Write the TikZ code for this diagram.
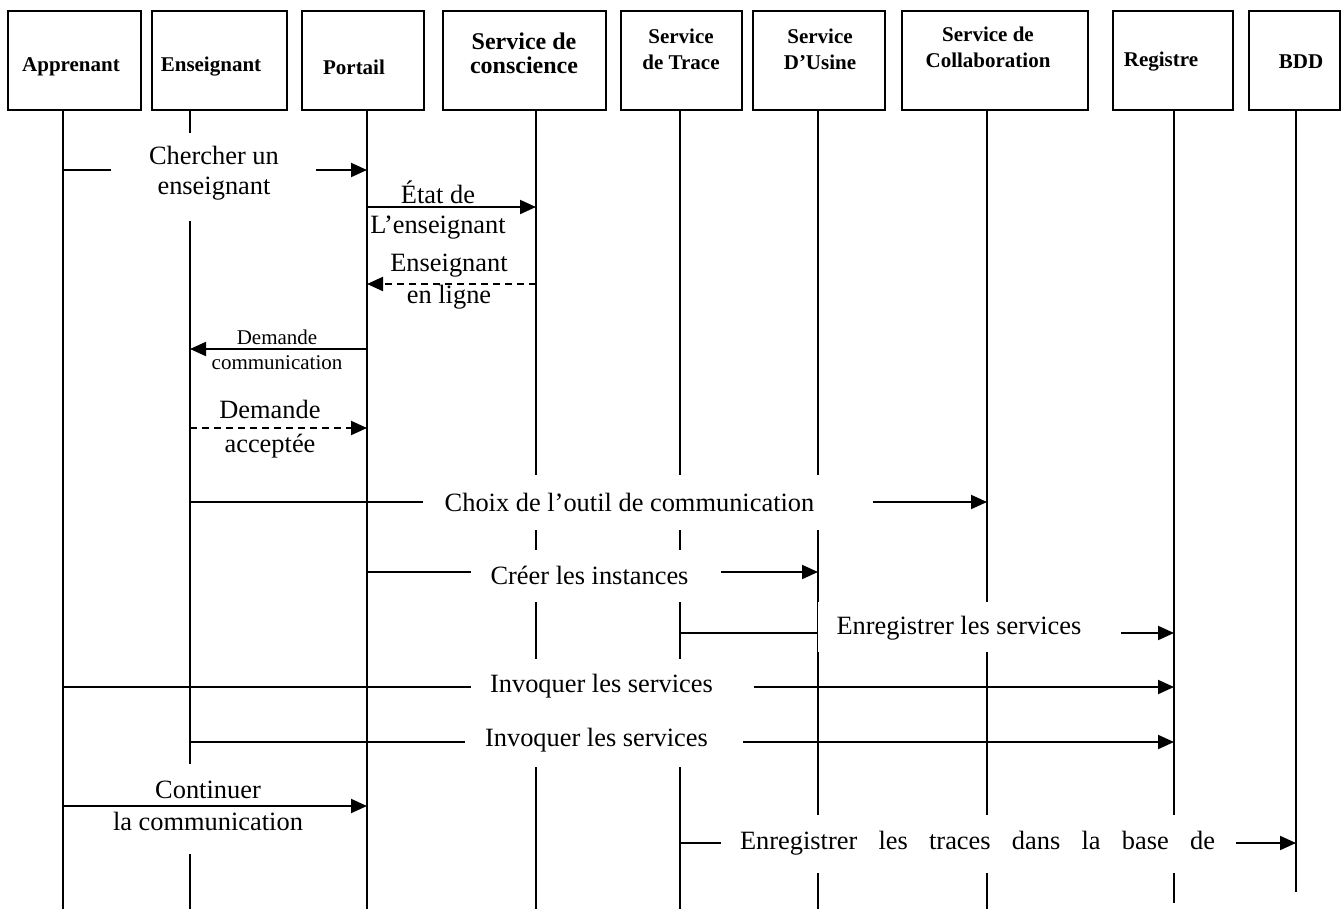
\documentclass[tikz,border=0pt]{standalone}
\usepackage{fontspec}
\setmainfont{Liberation Serif}
\usetikzlibrary{arrows.meta}
\begin{document}
\begin{tikzpicture}[x=1pt,y=-1pt,
  actorbox/.style={draw, line width=2.3pt, minimum height=99pt, inner sep=0pt},
  actortext/.style={font=\bfseries\fontsize{21}{26}\selectfont, align=center, inner sep=0pt},
  lifeline/.style={line width=2pt},
  msg/.style={line width=2pt, -{Triangle[length=16pt,width=14pt]}},
  reply/.style={msg, dash pattern=on 7pt off 5pt},
  maskbox/.style={fill=white, draw=none, inner sep=0pt, outer sep=0pt},
  msgtext/.style={font=\fontsize{26.4}{30}\selectfont, align=center, inner sep=0pt},
  smalltext/.style={font=\fontsize{21}{25}\selectfont, align=center, inner sep=0pt}
]
\useasboundingbox (0,0) rectangle (1344,908);

% participant boxes
\node[actorbox, minimum width=133pt] (A) at (74.5,60.5) {};
\node[actorbox, minimum width=135pt] (E) at (219.5,60.5) {};
\node[actorbox, minimum width=122pt] (P) at (363,60.5) {};
\node[actorbox, minimum width=163pt] (C) at (524.5,60.5) {};
\node[actorbox, minimum width=121pt] (T) at (681.5,60.5) {};
\node[actorbox, minimum width=132pt] (U) at (819,60.5) {};
\node[actorbox, minimum width=186pt] (Co) at (995,60.5) {};
\node[actorbox, minimum width=120pt] (R) at (1173,60.5) {};
\node[actorbox, minimum width=91pt] (B) at (1294.5,60.5) {};

% participant names
\node[actortext] (A-name) at (71,67) {Apprenant};
\node[actortext] (E-name) at (211,67) {Enseignant};
\node[actortext] (P-name) at (354,67) {Portail};
\node[actortext, font=\bfseries\fontsize{24}{24}\selectfont] (C-name) at (524,53) {Service de\\conscience};
\node[actortext] (T-name) at (681,49) {Service\\de Trace};
\node[actortext] (U-name) at (820,49) {Service\\D’Usine};
\node[actortext] (Co-name) at (988,47) {Service de\\Collaboration};
\node[actortext] (R-name) at (1161,62) {Registre};
\node[actortext] (B-name) at (1301,62) {BDD};

% lifelines
\foreach \n/\x/\b in {A/63/910, E/190/910, P/367/910, C/536/910, T/680/910,
                      U/818/910, Co/987/910, R/1174/903, B/1296/892} {
  \coordinate (\n-top) at (\x,110);
  \coordinate (\n-bot) at (\x,\b);
  \draw[lifeline] (\n-top) -- (\n-bot);
}

% message end points
\coordinate (m1s) at (63,170);   \coordinate (m1e) at (367,170);
\coordinate (m2s) at (367,207);  \coordinate (m2e) at (536,207);
\coordinate (m3s) at (536,284);  \coordinate (m3e) at (367,284);
\coordinate (m4s) at (367,349);  \coordinate (m4e) at (190,349);
\coordinate (m5s) at (190,428);  \coordinate (m5e) at (367,428);
\coordinate (m6s) at (190,502);  \coordinate (m6e) at (987,502);
\coordinate (m7s) at (367,572);  \coordinate (m7e) at (818,572);
\coordinate (m8s) at (680,633);  \coordinate (m8e) at (1174,633);
\coordinate (m9s) at (63,687);   \coordinate (m9e) at (1174,687);
\coordinate (m10s) at (190,742); \coordinate (m10e) at (1174,742);
\coordinate (m11s) at (63,806);  \coordinate (m11e) at (367,806);
\coordinate (m12s) at (680,843); \coordinate (m12e) at (1296,843);

% blank area behind the last two-line label (under its arrow)
\node[maskbox, minimum width=200pt, minimum height=90pt] (m11mask) at (210,809) {};

% messages
\draw[msg] (m1s) -- (m1e);
\draw[msg] (m2s) -- (m2e);
\draw[reply] (m3s) -- (m3e);
\draw[msg] (m4s) -- (m4e);
\draw[reply] (m5s) -- (m5e);
\draw[msg] (m6s) -- (m6e);
\draw[msg] (m7s) -- (m7e);
\draw[msg] (m8s) -- (m8e);
\draw[msg] (m9s) -- (m9e);
\draw[msg] (m10s) -- (m10e);
\draw[msg] (m11s) -- (m11e);
\draw[msg] (m12s) -- (m12e);

% blank label areas over the lines
\node[maskbox, minimum width=205pt, minimum height=88pt] (m1mask) at (213.5,177) {};
\node[maskbox, minimum width=450pt, minimum height=55pt] (m6mask) at (648,502.5) {};
\node[maskbox, minimum width=250pt, minimum height=52pt] (m7mask) at (596,576) {};
\node[maskbox, minimum width=303pt, minimum height=50pt] (m8mask) at (969.5,627) {};
\node[maskbox, minimum width=283pt, minimum height=56pt] (m9mask) at (612.5,687) {};
\node[maskbox, minimum width=278pt, minimum height=52pt] (m10mask) at (604,741) {};
\node[maskbox, minimum width=515pt, minimum height=58pt] (m12mask) at (978.5,844) {};

% labels
\node[msgtext] (m1text) at (214,173) {Chercher un\\enseignant};
\node[msgtext] (m2text) at (438,210) {État de\\L’enseignant};
\node[msgtext, font=\fontsize{26.4}{32}\selectfont] (m3text) at (449,282) {Enseignant\\en ligne};
\node[smalltext] (m4text) at (277,349.5) {Demande\\communication};
\node[msgtext, font=\fontsize{26.4}{34}\selectfont] (m5text) at (270,429) {Demande\\acceptée};
\node[msgtext] (m6text) at (629.5,502) {Choix de l’outil de communication};
\node[msgtext] (m7text) at (589.5,575) {Créer les instances};
\node[msgtext] (m8text) at (959,628) {Enregistrer les services};
\node[msgtext] (m9text) at (601.5,686) {Invoquer les services};
\node[msgtext] (m10text) at (596.5,740) {Invoquer les services};
\node[msgtext, font=\fontsize{26.4}{32}\selectfont] (m11text) at (208,806) {Continuer\\la communication};
\node[msgtext] (m12text) at (977.5,843) {\makebox[475pt][s]{Enregistrer les traces dans la base de}};
\end{tikzpicture}
\end{document}
